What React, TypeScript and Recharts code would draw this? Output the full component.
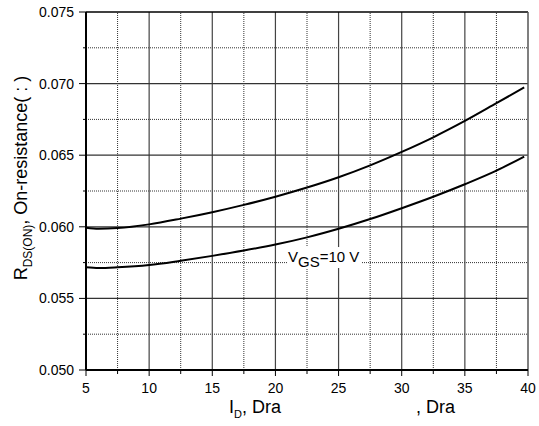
import React from 'react';
import { LineChart, Line, XAxis, YAxis, ReferenceLine, ReferenceDot } from 'recharts';

// drain current, A
const currents = [5, 6, 7.5, 10, 12.5, 15, 17.5, 20, 22.5, 25, 27.5, 30, 32.5, 35, 37.5, 39.7];
// on-resistance, ohm
const upperCurve = [0.05994, 0.05986, 0.05991, 0.06017, 0.06057, 0.06102, 0.06153, 0.0621, 0.06274, 0.06346, 0.06429, 0.06523, 0.06625, 0.06739, 0.06863, 0.06973];
const lowerCurve = [0.05717, 0.05712, 0.05717, 0.05733, 0.05763, 0.05797, 0.05834, 0.05876, 0.05926, 0.05986, 0.06054, 0.0613, 0.0621, 0.06297, 0.06392, 0.0649];

const xTicks = [5, 7.5, 10, 12.5, 15, 17.5, 20, 22.5, 25, 27.5, 30, 32.5, 35, 37.5, 40];
const yTicks = [0.05, 0.0525, 0.055, 0.0575, 0.06, 0.0625, 0.065, 0.0675, 0.07, 0.0725, 0.075];
const xMajorGrid = [10, 15, 20, 25, 30, 35];
const xMinorGrid = [7.5, 12.5, 17.5, 22.5, 27.5, 32.5, 37.5];
const yMajorGrid = [0.055, 0.06, 0.065, 0.07];
const yMinorGrid = [0.0525, 0.0575, 0.0625, 0.0675, 0.0725];

const data = currents.map((id, i) => ({ id, upper: upperCurve[i], lower: lowerCurve[i] }));

const FONT = 'Liberation Sans, Arial, sans-serif';

const isMajorX = (v: number) => v % 5 === 0;
const isMajorY = (v: number) => Math.round(v * 10000) % 50 === 0;

const XTick = ({ x, y, payload }: any) => {
  const major = isMajorX(payload.value);
  return (
    <g>
      <line x1={x} x2={x} y1={y} y2={y + (major ? 6 : 4)} stroke="#000" strokeWidth={1} />
      {major && (
        <text x={x} y={y + 23} textAnchor="middle" fontSize={14} fontFamily={FONT} fill="#000">
          {payload.value}
        </text>
      )}
    </g>
  );
};

const YTick = ({ x, y, payload }: any) => {
  const major = isMajorY(payload.value);
  return (
    <g>
      <line x1={x - (major ? 7 : 3)} x2={x} y1={y} y2={y} stroke="#000" strokeWidth={1} />
      {major && (
        <text x={x - 12} y={y} dy="0.35em" textAnchor="end" fontSize={14} fontFamily={FONT} fill="#000">
          {payload.value.toFixed(3)}
        </text>
      )}
    </g>
  );
};

const YTitle = ({ viewBox }: any) => {
  const cx = viewBox.x + 27;
  const cy = viewBox.y + viewBox.height / 2 - 13;
  return (
    <text
      x={cx}
      y={cy}
      transform={`rotate(-90 ${cx} ${cy})`}
      textAnchor="middle"
      fontSize={18}
      fontFamily={FONT}
      fill="#000"
    >
      <tspan>R</tspan>
      <tspan dy={5} fontSize={12}>DS(ON)</tspan>
      <tspan dy={-5}>, On-resistance( : )</tspan>
    </text>
  );
};

const XTitle = ({ viewBox }: any) => {
  const y = viewBox.y + 43;
  return (
    <g fontFamily={FONT} fill="#000">
      <text x={viewBox.x + 143} y={y} fontSize={18}>
        <tspan>I</tspan>
        <tspan dy={5} fontSize={11}>D</tspan>
        <tspan dy={-5}>, Dra</tspan>
      </text>
      <text x={viewBox.x + 330} y={y} fontSize={18}>
        , Dra
      </text>
    </g>
  );
};

const VgsLabel = ({ viewBox }: any) => {
  const x = viewBox.x;
  const y = viewBox.y;
  return (
    <g>
      <rect x={x - 1} y={y - 15} width={74} height={21} fill="#fff" />
      <text x={x} y={y} fontSize={15} fontFamily={FONT} fill="#000">
        <tspan>V</tspan>
        <tspan dy={5}>GS</tspan>
        <tspan dy={-5}>=10 V</tspan>
      </text>
    </g>
  );
};

export default function App() {
  return (
    <div style={{ position: 'absolute', left: 0, top: 0, background: '#fff' }}>
      <LineChart width={539} height={426} data={data} margin={{ top: 12, right: 11, bottom: 0, left: 0 }}>
        <XAxis
          dataKey="id"
          type="number"
          domain={[5, 40]}
          ticks={xTicks}
          allowDataOverflow
          height={56}
          tickSize={0}
          tickMargin={0}
          tickLine={false}
          tick={<XTick />}
          axisLine={{ stroke: '#000', strokeWidth: 2 }}
          label={{ content: <XTitle /> }}
          interval={0}
        />
        <YAxis
          type="number"
          domain={[0.05, 0.075]}
          ticks={yTicks}
          allowDataOverflow
          width={86}
          tickSize={0}
          tickMargin={0}
          tickLine={false}
          tick={<YTick />}
          axisLine={{ stroke: '#000', strokeWidth: 2 }}
          label={{ content: <YTitle /> }}
          interval={0}
        />
        {xMinorGrid.map((v) => (
          <ReferenceLine key={`xm${v}`} x={v} stroke="#333" strokeWidth={1} strokeDasharray="1 1" />
        ))}
        {yMinorGrid.map((v) => (
          <ReferenceLine key={`ym${v}`} y={v} stroke="#333" strokeWidth={1} strokeDasharray="1 1" />
        ))}
        {xMajorGrid.map((v) => (
          <ReferenceLine key={`xM${v}`} x={v} stroke="#444" strokeWidth={1.2} />
        ))}
        {yMajorGrid.map((v) => (
          <ReferenceLine key={`yM${v}`} y={v} stroke="#333" strokeWidth={1.2} />
        ))}
        <ReferenceLine y={0.075} stroke="#000" strokeWidth={1.5} />
        <ReferenceLine x={40} stroke="#555" strokeWidth={1.5} />
        <ReferenceDot x={21} y={0.05754} r={0} fill="none" stroke="none" label={<VgsLabel />} />
        <Line type="monotone" dataKey="upper" stroke="#000" strokeWidth={2} dot={false} isAnimationActive={false} />
        <Line type="monotone" dataKey="lower" stroke="#000" strokeWidth={2} dot={false} isAnimationActive={false} />
      </LineChart>
    </div>
  );
}
